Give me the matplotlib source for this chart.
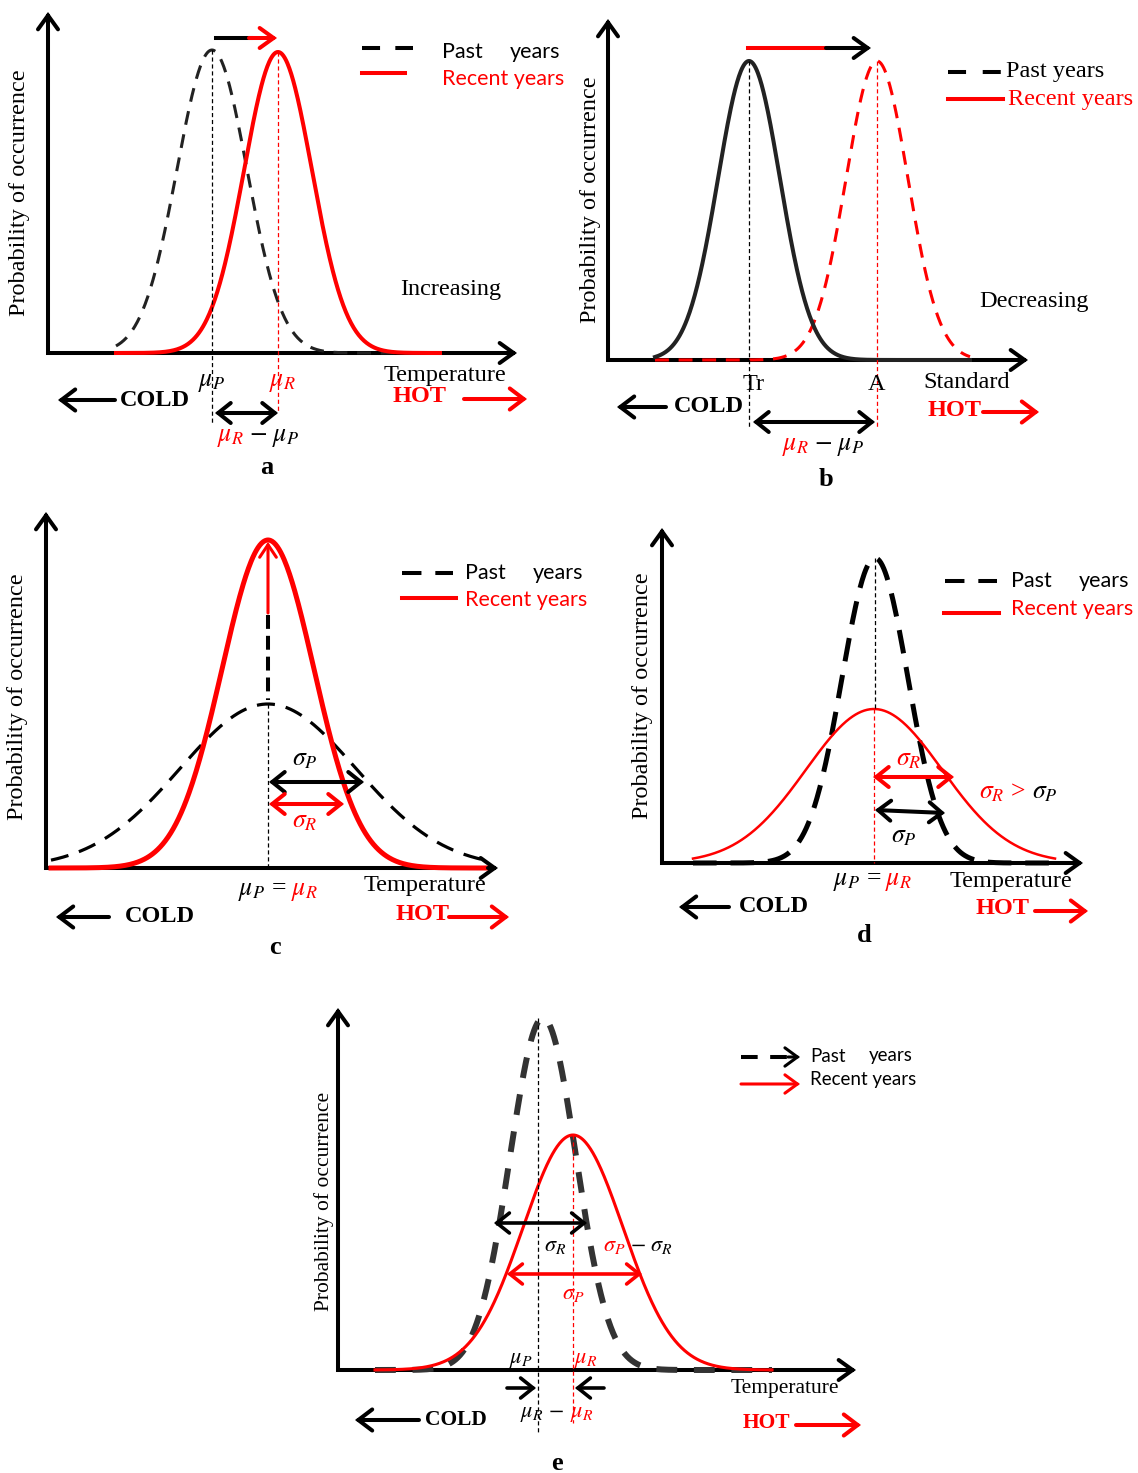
import matplotlib.pyplot as plt
import numpy as np

plt.rcParams['mathtext.fontset'] = 'stix'
plt.rcParams['lines.scale_dashes'] = False

SERIF = 'Liberation Serif'
SANS = 'Lato'
RED = '#ff0000'
MATH = 18.5

# ------------------------------------------------------------
# Distribution parameters for each panel (a-e)
# ------------------------------------------------------------
panels = ['a', 'b', 'c', 'd', 'e']
past_mu = [212, 749, 268, 875, 543]
past_sigma = [35, 31, 88, 33, 33]
past_peak = [303, 299, 164, 305, 352]
recent_mu = [278, 877, 268, 874, 573]
recent_sigma = [34, 31, 46, 68, 50]
recent_peak = [301, 299, 328, 154, 235]
trend_words = ['Increasing', 'Decreasing']

# frame of each panel (pixel layout)
axis_x = [48, 608, 46, 662, 338]
axis_y = [353, 360, 868, 863, 1370]
axis_top = [12, 19, 512, 528, 1008]
axis_end = [517, 1028, 498, 1083, 856]
span_l = [116, 655, 51, 693, 375]
span_r = [440, 970, 487, 1055, 772]

fig = plt.figure(figsize=(11.38, 14.73), dpi=100)
ax = fig.add_axes([0, 0, 1, 1])
ax.set_xlim(0, 1138)
ax.set_ylim(1473, 0)
ax.axis('off')


def gauss(x, mu, s, h):
    return h * np.exp(-0.5 * ((x - mu) / s) ** 2)


def arrow(p0, p1, color='k', lw=2.9, style='->', hl=0.5, hw=0.36, ms=20):
    ax.annotate('', xy=p1, xytext=p0,
                arrowprops=dict(arrowstyle=f'{style},head_length={hl},head_width={hw}',
                                color=color, lw=lw, shrinkA=0, shrinkB=0,
                                mutation_scale=ms, joinstyle='miter'))


def txt(x, y, s, size=17.5, color='k', family=SERIF, weight='normal',
        ha='left', va='center', rot=0):
    ax.text(x, y, s, fontsize=size, color=color, family=family,
            weight=weight, ha=ha, va=va, rotation=rot)


def curve(i, which, **kw):
    x = np.linspace(span_l[i], span_r[i], 500)
    if which == 'past':
        y = axis_y[i] - gauss(x, past_mu[i], past_sigma[i], past_peak[i])
    else:
        y = axis_y[i] - gauss(x, recent_mu[i], recent_sigma[i], recent_peak[i])
    ax.plot(x, y, **kw)


def frame(i, lw=2.9):
    ax.plot([axis_x[i], axis_x[i], axis_end[i] - 4],
            [axis_top[i] + 4, axis_y[i], axis_y[i]], color='k', lw=lw,
            solid_joinstyle='miter')
    arrow((axis_x[i], axis_top[i] + 10), (axis_x[i], axis_top[i]), lw=lw)
    arrow((axis_end[i] - 10, axis_y[i]), (axis_end[i], axis_y[i]), lw=lw)


def vline(x, y0, y1, color='k', lw=0.9):
    ax.plot([x, x], [y0, y1], color=color, lw=lw, dashes=(3, 2))


def cold_hot(cx, cy, c_arrow, hx, hy, h_arrow, size=17.5):
    txt(cx, cy, 'COLD', size, weight='bold')
    arrow((c_arrow[0], cy), (c_arrow[1], cy), lw=2.9, hl=0.5, hw=0.38)
    txt(hx, hy, 'HOT', size, color=RED, weight='bold')
    arrow((h_arrow[0], hy + 2), (h_arrow[1], hy + 2), color=RED, lw=2.9,
          hl=0.5, hw=0.38)


# ============================================================
# Panel a
# ============================================================
i = 0
frame(i)
curve(i, 'past', color='#222222', lw=2.2, dashes=(10, 7))
curve(i, 'recent', color=RED, lw=2.9)
vline(past_mu[i], axis_y[i] - past_peak[i], 423)
vline(recent_mu[i], axis_y[i] - recent_peak[i], 413, color=RED)
ax.plot([past_mu[i] + 4, past_mu[i] + 39], [38, 38], color='k', lw=2.9)
arrow((past_mu[i] + 37, 38), (recent_mu[i] - 1, 38), color=RED, lw=2.9)
ax.plot([362, 413], [48, 48], color='k', lw=2.9, dashes=(13, 11))
ax.plot([362, 405], [73, 73], color=RED, lw=2.9)
txt(442, 52, 'Past', 15.5, family=SANS)
txt(560, 52, 'years', 15.5, family=SANS, ha='right')
txt(442, 79, 'Recent years', 15.5, color=RED, family=SANS)
txt(400, 290, trend_words[0])
txt(384, 375, 'Temperature')
txt(past_mu[i], 383, r'$\mu_P$', MATH, ha='center')
txt(recent_mu[i] + 4, 383, r'$\mu_R$', MATH, color=RED, ha='center')
cold_hot(120, 400, (115, 58), 393, 397, (464, 527))
arrow((past_mu[i] + 3, 413), (recent_mu[i], 413), style='<->', lw=2.9,
      hl=0.45, hw=0.36)
txt(217, 438, r'$\mu_R$', MATH, color=RED)
txt(249, 438, r'$-\ \mu_P$', MATH)
txt(267, 467, 'a', 19, weight='bold', ha='center')
txt(20, 193, 'Probability of occurrence', rot=90, ha='center')

# ============================================================
# Panel b
# ============================================================
i = 1
frame(i)
curve(i, 'recent', color=RED, lw=2.2, dashes=(10, 7))
curve(i, 'past', color='#222222', lw=2.9)
vline(past_mu[i], axis_y[i] - past_peak[i], 427)
vline(recent_mu[i], axis_y[i] - recent_peak[i], 427, color=RED)
ax.plot([past_mu[i] - 1, past_mu[i] + 79], [48, 48], color=RED, lw=2.9)
arrow((past_mu[i] + 77, 48), (recent_mu[i] - 6, 48), lw=2.9)
ax.plot([948, 1001], [72, 72], color='k', lw=2.9, dashes=(13, 12))
ax.plot([948, 1003], [99, 99], color=RED, lw=2.9)
txt(1006, 71, 'Past years')
txt(1008, 99, 'Recent years', color=RED)
txt(979, 302, trend_words[1])
txt(754, 385, 'Tr', ha='center')
txt(877, 385, 'A', ha='center')
txt(923, 383, 'Standard')
cold_hot(674, 407, (666, 617), 928, 410, (983, 1039))
arrow((past_mu[i] + 4, 422), (recent_mu[i] - 2, 422), style='<->', lw=2.9,
      hl=0.45, hw=0.36)
txt(782, 447, r'$\mu_R$', MATH, color=RED)
txt(814, 447, r'$-\ \mu_P$', MATH)
txt(826, 480, 'b', 19, weight='bold', ha='center')
txt(591, 200, 'Probability of occurrence', rot=90, ha='center')

# ============================================================
# Panel c
# ============================================================
i = 2
frame(i)
curve(i, 'past', color='k', lw=2.3, dashes=(13, 8))
curve(i, 'recent', color=RED, lw=3.6)
arrow((recent_mu[i], 613), (recent_mu[i], axis_y[i] - recent_peak[i] + 2),
      color=RED, lw=2.2, hl=0.45, hw=0.3)
ax.plot([past_mu[i], past_mu[i]], [615, axis_y[i] - past_peak[i] - 4],
        color='k', lw=2.9, dashes=(10, 5))
vline(past_mu[i], axis_y[i] - past_peak[i], axis_y[i])
txt(305, 760, r'$\sigma_P$', MATH, ha='center')
arrow((past_mu[i] + 1, 782), (364, 782), style='<->', lw=2.9, hl=0.45, hw=0.36)
arrow((recent_mu[i] + 1, 804), (344, 804), style='<->', color=RED, lw=2.9,
      hl=0.45, hw=0.36)
txt(305, 822, r'$\sigma_R$', MATH, color=RED, ha='center')
ax.plot([402, 453], [573, 573], color='k', lw=2.9, dashes=(14, 10))
ax.plot([402, 456], [598, 598], color=RED, lw=2.9)
txt(465, 573, 'Past', 15.5, family=SANS)
txt(583, 573, 'years', 15.5, family=SANS, ha='right')
txt(465, 600, 'Recent years', 15.5, color=RED, family=SANS)
txt(238, 892, r'$\mu_P$ =', MATH)
txt(291, 892, r'$\mu_R$', MATH, color=RED)
txt(364, 885, 'Temperature')
cold_hot(125, 917, (109, 56), 396, 915, (449, 509))
txt(275, 947, 'c', 19, weight='bold', ha='center')
txt(18, 697, 'Probability of occurrence', rot=90, ha='center')

# ============================================================
# Panel d
# ============================================================
i = 3
frame(i)
curve(i, 'past', color='k', lw=3.6, dashes=(17, 10))
curve(i, 'recent', color=RED, lw=1.8)
vline(past_mu[i], axis_y[i] - past_peak[i], axis_y[i] - recent_peak[i])
vline(recent_mu[i], axis_y[i] - recent_peak[i], axis_y[i], color=RED)
txt(909, 760, r'$\sigma_R$', MATH, color=RED, ha='center')
arrow((recent_mu[i] - 1, 777), (954, 777), style='<->', color=RED, lw=2.9,
      hl=0.45, hw=0.36)
arrow((past_mu[i], 810), (945, 813), style='<->', lw=2.9, hl=0.45, hw=0.36)
txt(904, 837, r'$\sigma_P$', MATH, ha='center')
txt(979, 793, r'$\sigma_R$ >', MATH, color=RED)
txt(1032, 793, r'$\sigma_P$', MATH)
ax.plot([945, 997], [581, 581], color='k', lw=2.9, dashes=(14, 10))
ax.plot([944, 999], [613, 613], color=RED, lw=2.9)
txt(1011, 581, 'Past', 15.5, family=SANS)
txt(1129, 581, 'years', 15.5, family=SANS, ha='right')
txt(1011, 609, 'Recent years', 15.5, color=RED, family=SANS)
txt(833, 882, r'$\mu_P$ =', MATH)
txt(885, 882, r'$\mu_R$', MATH, color=RED)
txt(950, 882, 'Temperature')
cold_hot(739, 907, (729, 679), 976, 909, (1035, 1088))
txt(864, 935, 'd', 19, weight='bold', ha='center')
txt(643, 696, 'Probability of occurrence', rot=90, ha='center')

# ============================================================
# Panel e
# ============================================================
i = 4
ME = 16
frame(i)
curve(i, 'past', color='#333333', lw=4.3, dashes=(15, 12))
curve(i, 'recent', color=RED, lw=2.2)
vline(past_mu[i] - 5, axis_y[i] - past_peak[i], 1433)
vline(recent_mu[i], axis_y[i] - recent_peak[i], 1423, color=RED)
arrow((494, 1223), (587, 1223), style='<->', lw=2.6, hl=0.45, hw=0.36)
txt(555, 1247, r'$\sigma_R$', ME, ha='center')
txt(603, 1247, r'$\sigma_P$', ME, color=RED)
txt(630, 1247, r'$-\ \sigma_R$', ME)
arrow((507, 1274), (642, 1274), style='<->', color=RED, lw=2.6, hl=0.45, hw=0.36)
txt(recent_mu[i], 1295, r'$\sigma_P$', ME, color=RED, ha='center')
txt(521, 1360, r'$\mu_P$', ME, ha='center')
txt(586, 1360, r'$\mu_R$', ME, color=RED, ha='center')
arrow((507, 1388), (536, 1388), lw=2.6, hl=0.45, hw=0.36)
arrow((604, 1388), (575, 1388), lw=2.6, hl=0.45, hw=0.36)
txt(520, 1415, r'$\mu_R$ $-$', ME)
txt(582, 1415, r'$\mu_R$', ME, color=RED, ha='center')
ax.plot([741, 790], [1057, 1057], color='k', lw=2.9, dashes=(12, 9))
arrow((788, 1057), (800, 1057), lw=2.2, hl=0.45, hw=0.33)
arrow((741, 1084), (800, 1084), color=RED, lw=2.2, hl=0.45, hw=0.33)
txt(810, 1056, 'Past', 13.5, family=SANS)
txt(913, 1056, 'years', 13.5, family=SANS, ha='right')
txt(810, 1080, 'Recent years', 13.5, family=SANS)
txt(731, 1388, 'Temperature', 15.5)
cold_hot(425, 1420, (419, 355), 743, 1423, (796, 861), size=15.5)
txt(557, 1463, 'e', 19, weight='bold', ha='center')
txt(324, 1201, 'Probability of occurrence', 15.5, rot=90, ha='center')

fig.savefig('out.png', dpi=100)
